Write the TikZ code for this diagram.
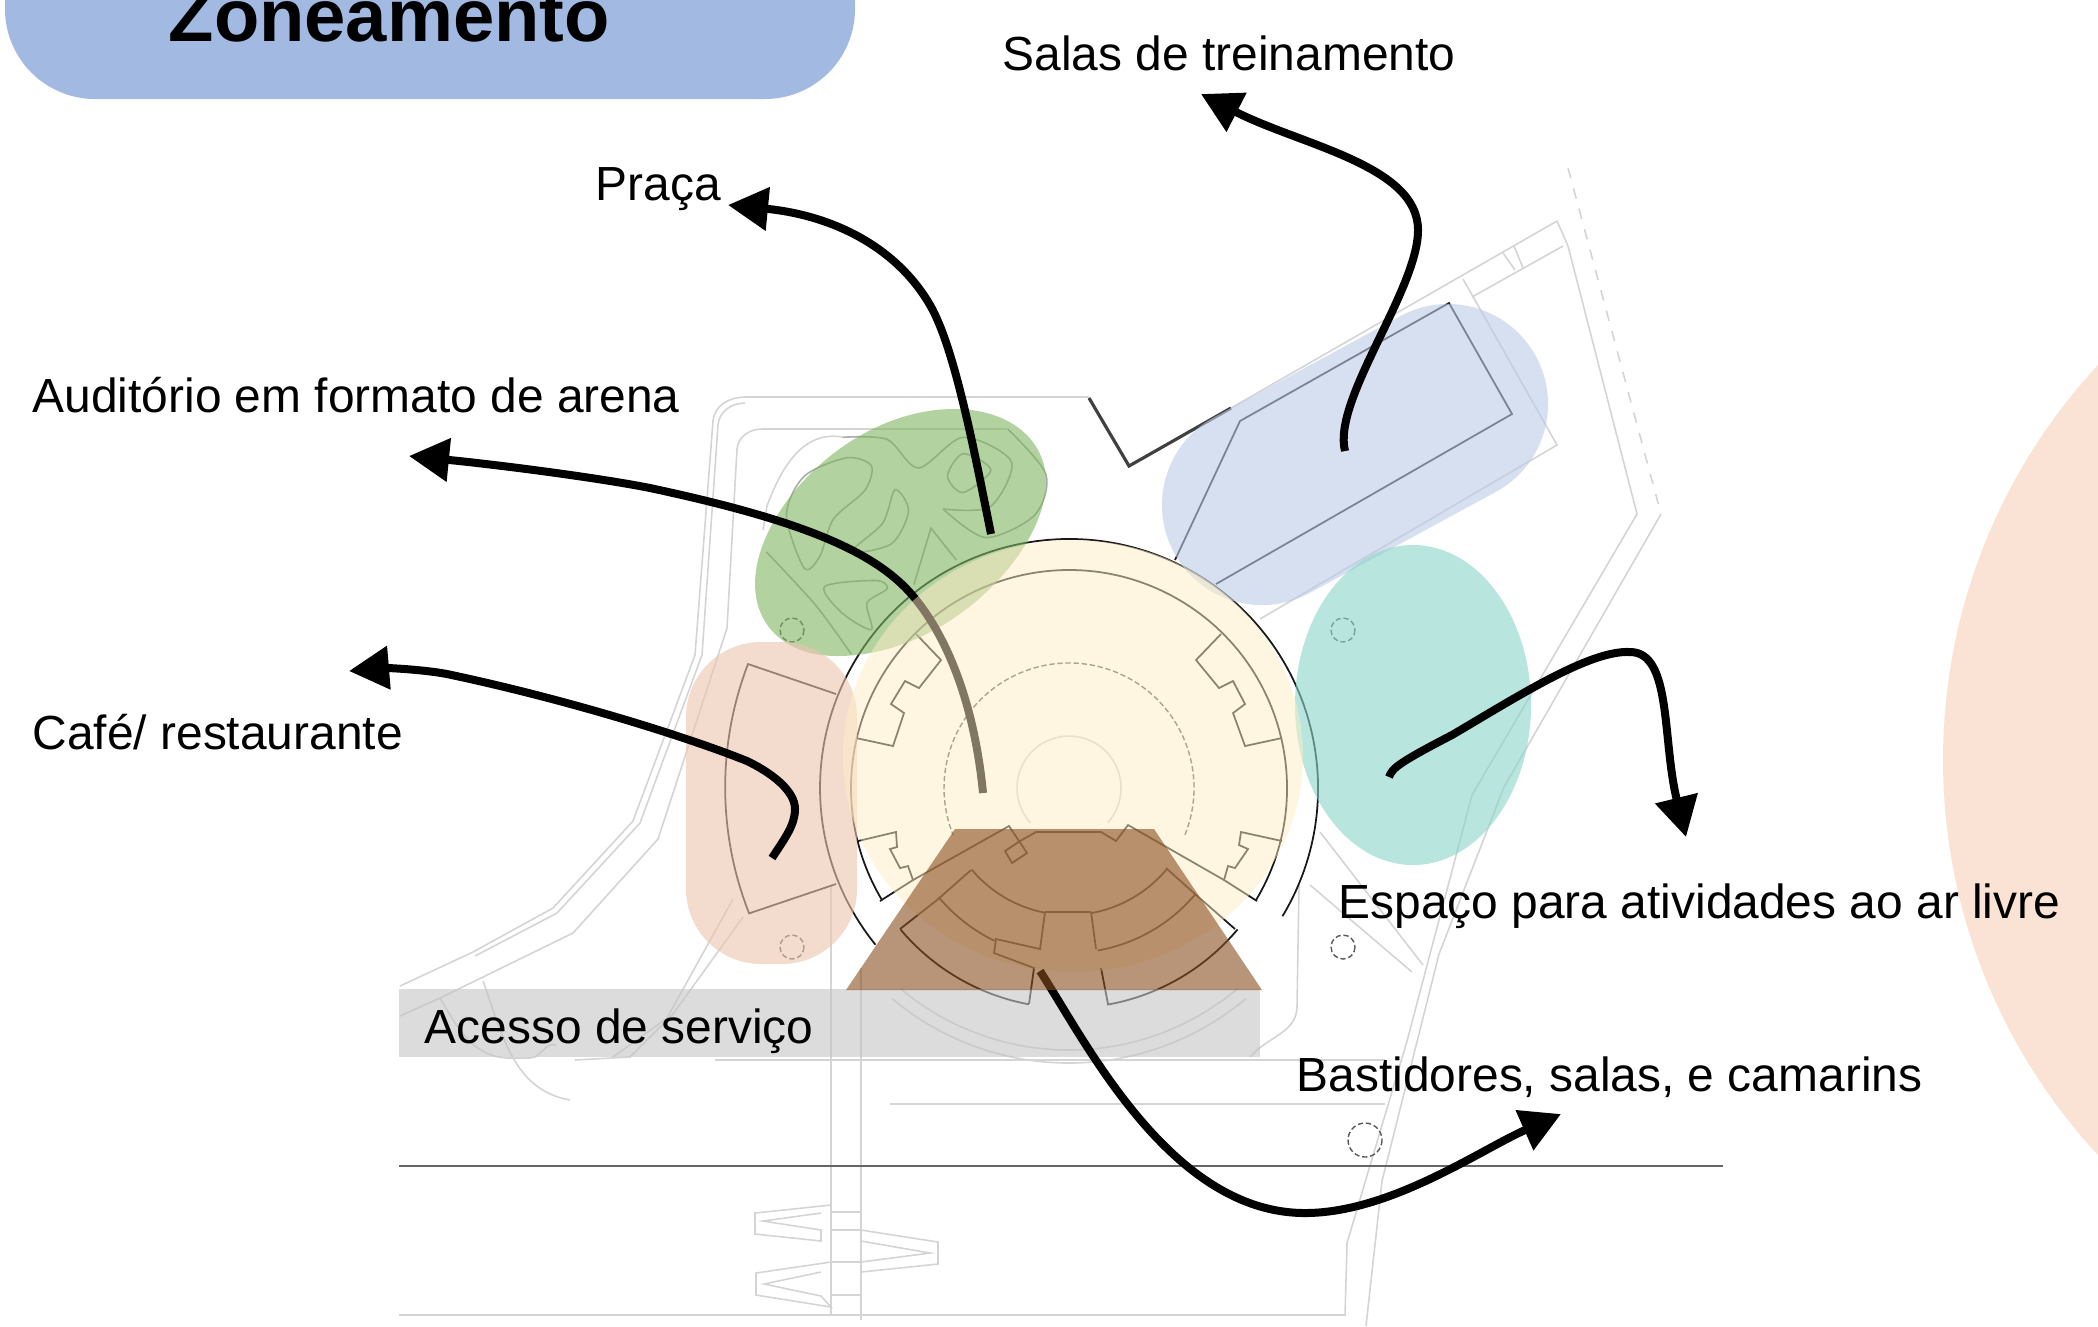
\documentclass[tikz,border=0pt]{standalone}
\usepackage{fontspec}
\setmainfont{Liberation Sans}
\usetikzlibrary{arrows.meta}

\definecolor{headblue}{RGB}{162,185,226}
\definecolor{bigpeach}{RGB}{250,227,213}
\definecolor{pracagreen}{RGB}{127,180,95}
\definecolor{salasblue}{RGB}{188,203,230}
\definecolor{arlivreteal}{RGB}{137,213,200}
\definecolor{cafepeach}{RGB}{235,197,173}
\definecolor{arenayellow}{RGB}{255,237,197}
\definecolor{backbrown}{RGB}{137,78,30}

\tikzset{
  planfaint/.style={draw=black!17,line width=0.45pt},
  plangarden/.style={draw=black!33,line width=0.45pt},
  plandark/.style={draw=black!90,line width=0.5pt},
  plantree/.style={draw=black!65,line width=0.4pt,dashed,dash pattern=on 1.5pt off 0.8pt},
  zonefill/.style={fill opacity=0.6,draw=none},
  flowarrow/.style={line width=0.08cm,-{Triangle[length=0.4cm,width=0.42cm]}},
  zonelabel/.style={anchor=base west,inner sep=0,font=\fontsize{13.62pt}{16pt}\selectfont}
}

\begin{document}
\begin{tikzpicture}[x=0.01cm,y=0.01cm,yscale=-1]
\useasboundingbox (0,0) rectangle (2098,1326);
\clip (0,0) rectangle (2098,1326);
\coordinate (ctr) at (1069,788);

% background shapes
\fill[bigpeach] (2524,760) circle (581);
\fill[headblue,rounded corners=0.9cm] (5,-120) rectangle (855,99);

% site plan
\draw[planfaint] (1089,397) -- (745,397) to[out=180,in=-85] (713,421) -- (695,655) -- (633,821) -- (553,908) -- (473,952) -- (400,986);
\draw[planfaint] (745,403) to[out=180,in=-85] (718,425) -- (702,655) -- (640,823) -- (557,913) -- (475,956);
\draw[planfaint] (1007,429) -- (762,429) to[out=180,in=-85] (737,449) -- (727,628) -- (658,839) -- (573,933) -- (440,998) -- (400,1016);
\draw[planfaint] (842,437) to[out=190,in=-70] (767,506) -- (763,530);
\draw[planfaint] (483,981) to[out=70,in=190] (570,1100);
\draw[planfaint] (440,998) to[out=60,in=180] (510,1058) -- (530,1058) to[out=0,in=200] (556,1045);
\draw[planfaint] (743,917) -- (673,1014) -- (630,1057) -- (575,1060);
\draw[planfaint] (733,899) -- (667,1018) -- (613,1057);
\draw[planfaint] (1231,408) -- (1557,221) -- (1568,246) -- (1637,514) -- (1472,795) -- (1407,1041) -- (1347,1243) -- (1345,1315) -- (399,1315);
\draw[planfaint,dashed] (1568,168) -- (1661,514);
\draw[planfaint] (1661,514) -- (1504,787) -- (1439,954) -- (1382,1181) -- (1366,1326);
\draw[planfaint] (1463,279) -- (1557,445) -- (1260,619);
\draw[planfaint] (1472,297) -- (1563,246) (1503,253) -- (1515,270) (1514,246) -- (1523,268);
\draw[planfaint] (1320,832) -- (1423,965) (1310,885) -- (1412,972);
\draw[planfaint] (1299,885) -- (1297,1006) to[out=90,in=-50] (1250,1057);
\draw[planfaint] (715,1060) -- (1385,1060) (890,1104) -- (1385,1104);
\draw[planfaint] (831,886) -- (831,1315) (861,968) -- (861,1320);
\foreach \rad in {262,275}
  \draw[planfaint] (ctr) ++(50:\rad) arc[start angle=50,end angle=130,radius=\rad];

% stairs at the bottom
\draw[planfaint] (831,1205) -- (755,1213) -- (755,1234) -- (821,1241) -- (821,1230) -- (763,1221) -- (821,1213);
\draw[planfaint] (861,1230) -- (938,1242) -- (938,1264) -- (861,1272) -- (861,1262) -- (930,1253) -- (861,1241);
\draw[planfaint] (831,1262) -- (756,1273) -- (756,1295) -- (831,1307) -- (821,1296) -- (764,1284) -- (821,1272);
\foreach \ya in {1212,1230,1262,1295}
  \draw[planfaint] (831,\ya) -- (861,\ya);

% garden lines under the green zone
\begin{scope}[shift={(650,380)},x=0.004464cm,y=0.004082cm]
  \draw[plangarden] plot[smooth cycle] coordinates {(305,330) (345,235) (440,190) (495,210) (480,270) (410,340) (380,430) (345,460)};
  \draw[plangarden] plot[smooth cycle] coordinates {(548,268) (578,320) (540,400) (450,420) (520,350)};
  \draw[plangarden] plot[smooth cycle] coordinates {(665,235) (700,180) (762,220) (700,275)};
  \draw[plangarden] plot[smooth] coordinates {(655,315) (760,310) (808,200) (700,140) (600,215) (530,145) (430,140)};
  \draw[plangarden] plot[smooth] coordinates {(655,315) (750,385) (860,330) (885,230) (800,120)};
  \draw[plangarden] (590,500) -- (628,362) -- (685,440);
  \draw[plangarden] plot[smooth cycle] coordinates {(390,505) (505,490) (530,510) (485,545) (495,610) (430,570)};
  \draw[plangarden] plot[smooth] coordinates {(260,420) (370,550) (450,670)};
\end{scope}

% building
\foreach \aStart/\aEnd/\rad in {31/-219/249,31/-211/218,140/100.5/220,80/40/220,140/116/170,80/40/165,140/101/127,80/40/127}
  \draw[plandark] (ctr) ++(\aStart:\rad) arc[start angle=\aStart,end angle=\aEnd,radius=\rad];
\draw[plantree] (ctr) ++(22:125) arc[start angle=22,end angle=-202,radius=125];
\draw[planfaint] (ctr) ++(42:52) arc[start angle=42,end angle=-222,radius=52];
\draw[plandark] (856,738) -- (893,746) -- (904,713) -- (891,704) -- (905,681) -- (919,688) -- (941,660) -- (916,634);
\draw[plandark] (1221,634) -- (1196,660) -- (1219,688) -- (1233,681) -- (1245,704) -- (1233,713) -- (1245,746) -- (1282,738);
\draw[plandark] (858,841) -- (896,832) -- (897,847) -- (890,849) -- (900,868) -- (908,866) -- (913,880) -- (880,901);
\draw[plandark] (1282,841) -- (1241,832) -- (1239,845) -- (1248,849) -- (1235,868) -- (1228,866) -- (1224,880) -- (1257,901);
\draw[plandark] (913,880) -- (1009,826) -- (1027,853) -- (1012,863) -- (1005,851) -- (1020,841) -- (1036,832) -- (1101,832) -- (1116,841) -- (1128,825) -- (1224,880);
\draw[plandark] (1045,912) -- (1091,912) (1045,912) -- (1040,949) -- (996,939) -- (994,953) -- (1034,968) -- (1029,1004);
\draw[plandark] (1091,912) -- (1096,949) (1101,968) -- (1108,1004);
\draw[plandark] (971,870) -- (937,900) -- (900,929) (1166,868) -- (1195,894) -- (1235,929);

% cafe and training rooms
\draw[plandark] (836,694) -- (748,664) arc[start angle=201,end angle=158.5,radius=344] -- (836,884);
\draw[plandark] (1175,560) -- (1240,421) -- (1449,303) -- (1512,414) -- (1216,584);
\draw[black!75,line width=0.9pt] (1089,398) -- (1129,466) -- (1231,408);
\draw[black!60,line width=0.7pt] (399,1166) -- (1723,1166);

% trees
\foreach \tx/\ty in {792/630,792/947,1343/630,1343/947}
  \draw[plantree] (\tx,\ty) circle (12);
\draw[plantree] (1365,1140) circle (17);

% zones
\fill[pracagreen,zonefill] (954,409) .. controls (1010,409) and (1046,440) .. (1046,482) .. controls (1046,550) and (950,656) .. (837,656) .. controls (785,656) and (755,625) .. (755,584) .. controls (755,510) and (850,409) .. (954,409) -- cycle;
\draw[salasblue,opacity=0.6,line width=2cm,line cap=round] (1262,505) -- (1448,404);
\fill[arlivreteal,zonefill] (1413,705) ellipse [x radius=118,y radius=160];
\fill[cafepeach,zonefill,rounded corners=0.75cm] (686,642) rectangle (857,964);

% the arena line runs under the yellow zone
\coordinate (arenaFrom) at (983,793);
\coordinate (arenaTip) at (409,456);
\draw[flowarrow] (arenaFrom) .. controls (975,710) and (950,640) .. (913,596) .. controls (875,551) and (800,520) .. (650,488) .. controls (600,478) and (500,465) .. (arenaTip);
\fill[arenayellow,fill opacity=0.5] (1073,756) ellipse [x radius=230,y radius=216];

\fill[black!23,fill opacity=0.6] (399,989) rectangle (1260,1057);

% the backstage line starts under the brown zone
\coordinate (backFrom) at (1040,971);
\coordinate (backTip) at (1561,1114);
\draw[flowarrow] (backFrom) .. controls (1085,1040) and (1170,1213) .. (1305,1213) .. controls (1390,1213) and (1480,1150) .. (backTip);
\fill[backbrown,zonefill] (955,829) -- (1154,829) -- (1262,990) -- (846,990) -- cycle;

% other arrows
\coordinate (pracaFrom) at (991,534);
\coordinate (pracaTip) at (728,205);
\draw[flowarrow] (pracaFrom) .. controls (975,455) and (955,348) .. (930,305) .. controls (895,245) and (830,215) .. (pracaTip);
\coordinate (salasFrom) at (1345,451);
\coordinate (salasTip) at (1201,94);
\draw[flowarrow] (salasFrom) .. controls (1332,400) and (1418,290) .. (1418,230) .. controls (1418,165) and (1300,145) .. (salasTip);
\coordinate (cafeFrom) at (772,858);
\coordinate (cafeTip) at (349,671);
\draw[flowarrow] (cafeFrom) .. controls (785,838) and (795,825) .. (795,809) .. controls (795,790) and (770,772) .. (747,761) .. controls (690,738) and (570,700) .. (447,674) .. controls (420,669) and (385,668) .. (cafeTip);
\coordinate (arlivreFrom) at (1389,777);
\coordinate (arlivreTip) at (1686,837);
\draw[flowarrow] (arlivreFrom) .. controls (1392,768) and (1400,762) .. (1452,735) .. controls (1520,695) and (1590,650) .. (1630,652) .. controls (1672,652) and (1662,740) .. (arlivreTip);

% labels
\node (title) at (168,41) [anchor=base west,inner sep=0,font=\fontsize{21.1pt}{24pt}\selectfont\bfseries] {Zoneamento};
\node (salas) at (1002,70) [zonelabel] {Salas de treinamento};
\node (praca) at (595,200) [zonelabel] {Praça};
\node (arena) at (32,412) [zonelabel] {Auditório em formato de arena};
\node (cafe) at (32,749) [zonelabel] {Café/ restaurante};
\node (arlivre) at (1338,918) [zonelabel] {Espaço para atividades ao ar livre};
\node (servico) at (424,1043) [zonelabel] {Acesso de serviço};
\node (bastidores) at (1296,1091) [zonelabel] {Bastidores, salas, e camarins};

\end{tikzpicture}
\end{document}
